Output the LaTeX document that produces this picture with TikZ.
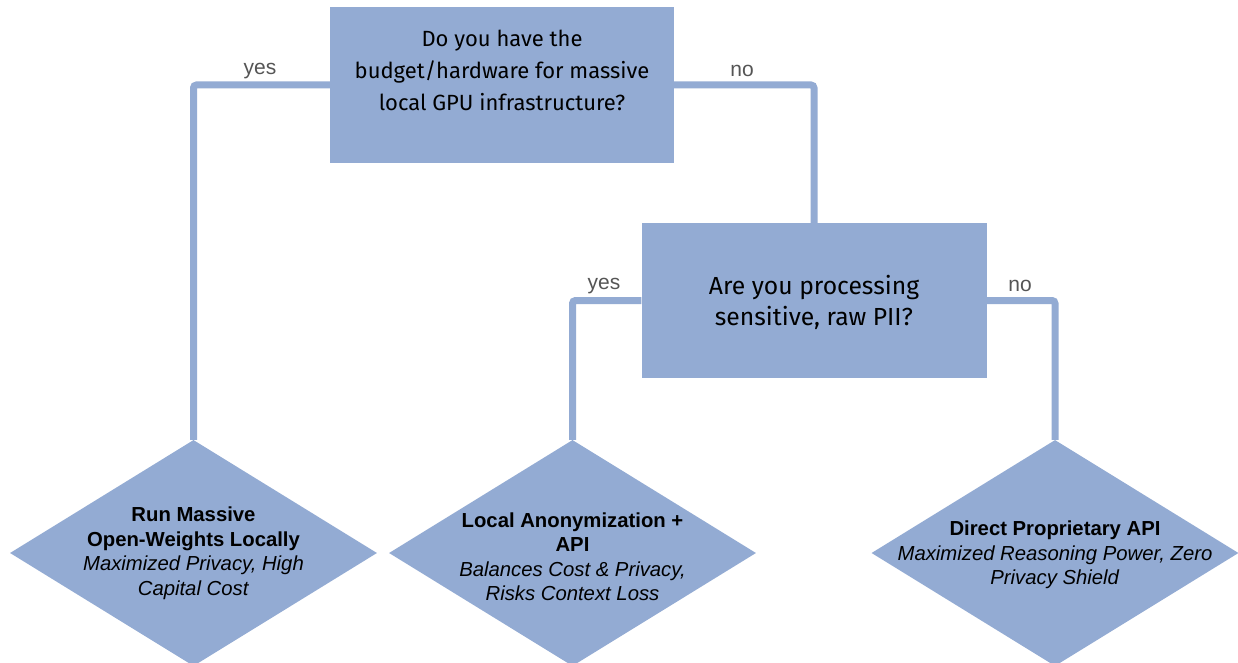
\documentclass[tikz,border=0pt]{standalone}
\usepackage{fontspec}
\setmainfont{Liberation Sans}
\newfontfamily\boxfont{Fira Sans}
\usetikzlibrary{shapes.geometric}
\definecolor{boxblue}{HTML}{93ABD3}
\definecolor{lblgray}{HTML}{555555}
\tikzset{
  qbox/.style={rectangle, fill=boxblue, inner sep=0pt},
  qtext/.style={align=center, inner sep=0pt, font=\boxfont\fontsize{22}{32}\selectfont, text=black},
  qtextb/.style={align=center, inner sep=0pt, font=\boxfont\fontsize{24.7}{31}\selectfont, text=black},
  outcome/.style={diamond, fill=boxblue, inner sep=0pt, aspect=1.62, minimum width=367, minimum height=226},
  otext/.style={align=center, inner sep=0pt, font=\fontsize{20.3}{24.5}\selectfont, text=black},
  conn/.style={draw=boxblue, line width=7pt, rounded corners=3pt},
  lbl/.style={text=lblgray, inner sep=0pt, font=\fontsize{21}{24}\selectfont}
}
\begin{document}
\begin{tikzpicture}[x=1pt,y=-1pt]
\useasboundingbox (0,0) rectangle (1238,663);
% question boxes
\node[qbox, minimum width=344, minimum height=156] (q1) at (502,85) {};
\node[qtext] (q1t) at (502,70) {Do you have the\\budget/hardware for massive\\local GPU infrastructure?};
\node[qbox, minimum width=345, minimum height=155] (q2) at (814,300.5) {};
\node[qtextb] (q2t) at (814,302) {Are you processing\\sensitive, raw PII?};
% outcome diamonds
\node[outcome] (d1) at (193.5,553) {};
\node[otext] (d1t) at (193.5,553) {\textbf{Run Massive}\\\textbf{Open-Weights Locally}\\\textit{Maximized Privacy, High}\\\textit{Capital Cost}};
\node[outcome] (d2) at (572.5,553) {};
\node[otext] (d2t) at (572.5,556.5) {\textbf{Local Anonymization +}\\\textbf{API}\\\textit{Balances Cost \& Privacy,}\\\textit{Risks Context Loss}};
\node[outcome] (d3) at (1055,553) {};
\node[otext] (d3t) at (1055,555) {\textbf{Direct Proprietary API}\\\textit{Maximized Reasoning Power, Zero}\\\textit{Privacy Shield}};
% connectors
\draw[conn] (q1.west) -| (d1.north);
\draw[conn] (q1.east) -| (q2.north);
\draw[conn] (q2.west) -| (d2.north);
\draw[conn] (q2.east) -| (d3.north);
% labels
\node[lbl] (l1) at (260,71) {yes};
\node[lbl] (l2) at (742,71) {no};
\node[lbl] (l3) at (604,286) {yes};
\node[lbl] (l4) at (1020,286) {no};
\end{tikzpicture}
\end{document}
